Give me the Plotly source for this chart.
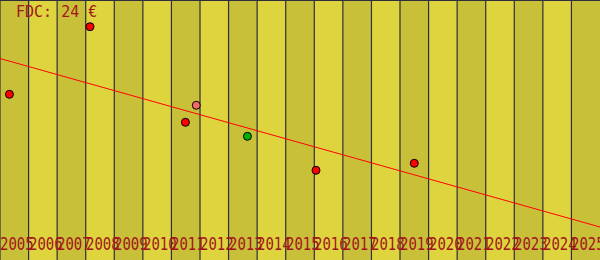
import plotly.graph_objects as go

# ---- data ----
years = list(range(2005, 2026))
point_x = [2005.33, 2008.15, 2011.49, 2011.87, 2013.66, 2016.06, 2019.50]
point_y = [165.7, 233.3, 137.7, 154.7, 123.7, 89.7, 96.7]
point_colors = ["#ff0000", "#ff0000", "#ff0000", "#f06a6a", "#00b000", "#ff0000", "#ff0000"]
trend_x = [2005, 2026]
trend_y = [201.5, 33.0]
title_text = "FDC: 24 €"

DARK = "#c9c03a"
LIGHT = "#ddd43e"
GRID = "#2e2e3c"
TXT = "#a3141c"

fig = go.Figure()

shapes = []
for i, yr in enumerate(years):
    shapes.append(dict(type="rect", xref="x", yref="paper", x0=yr, x1=yr + 1, y0=0, y1=1,
                       fillcolor=DARK if i % 2 == 0 else LIGHT, line=dict(width=0), layer="below"))
for yr in years:
    shapes.append(dict(type="line", xref="x", yref="paper", x0=yr, x1=yr, y0=0, y1=1,
                       line=dict(color=GRID, width=1.2), layer="below"))
shapes.append(dict(type="line", xref="paper", yref="paper", x0=0, x1=1, y0=1, y1=1,
                   line=dict(color=GRID, width=2), layer="below"))

fig.add_trace(go.Scatter(x=trend_x, y=trend_y, mode="lines",
                         line=dict(color="#ff0000", width=1), hoverinfo="skip"))
fig.add_trace(go.Scatter(x=point_x, y=point_y, mode="markers",
                         marker=dict(size=8, color=point_colors, line=dict(color="#000000", width=1)),
                         hoverinfo="skip"))

annotations = []
for yr in years:
    annotations.append(dict(x=yr, y=(260 - 253.5) / 260, xref="x", yref="paper", text=str(yr),
                            showarrow=False, xanchor="left", yanchor="bottom", xshift=-2,
                            font=dict(family="DejaVu Sans Mono", size=14, color=TXT)))
annotations.append(dict(x=14 / 600, y=1 - 1 / 260, xref="paper", yref="paper", text=title_text,
                        showarrow=False, xanchor="left", yanchor="top",
                        font=dict(family="DejaVu Sans Mono", size=15, color=TXT)))

fig.update_layout(
    width=600, height=260, margin=dict(l=0, r=0, t=0, b=0),
    paper_bgcolor=LIGHT, plot_bgcolor=LIGHT,
    showlegend=False, shapes=shapes, annotations=annotations,
    xaxis=dict(range=[2005, 2026], visible=False, fixedrange=True),
    yaxis=dict(range=[0, 260], visible=False, fixedrange=True),
)

# stretch the year labels vertically a little, like the reference's tall narrow glyphs
post = """
var gd = document.getElementById('{plot_id}');
function stretch(){
  var t = gd.querySelectorAll('text.annotation-text');
  for (var i = 0; i < t.length; i++) {
    var s = (i === t.length - 1) ? 1.08 : 1.25;
    t[i].style.transformBox = 'fill-box';
    t[i].style.transformOrigin = 'center';
    t[i].style.transform = 'scaleY(' + s + ')';
  }
}
stretch();
gd.on && gd.on('plotly_afterplot', stretch);
"""

fig.write_html("out.html", config={"displayModeBar": False}, post_script=post)
